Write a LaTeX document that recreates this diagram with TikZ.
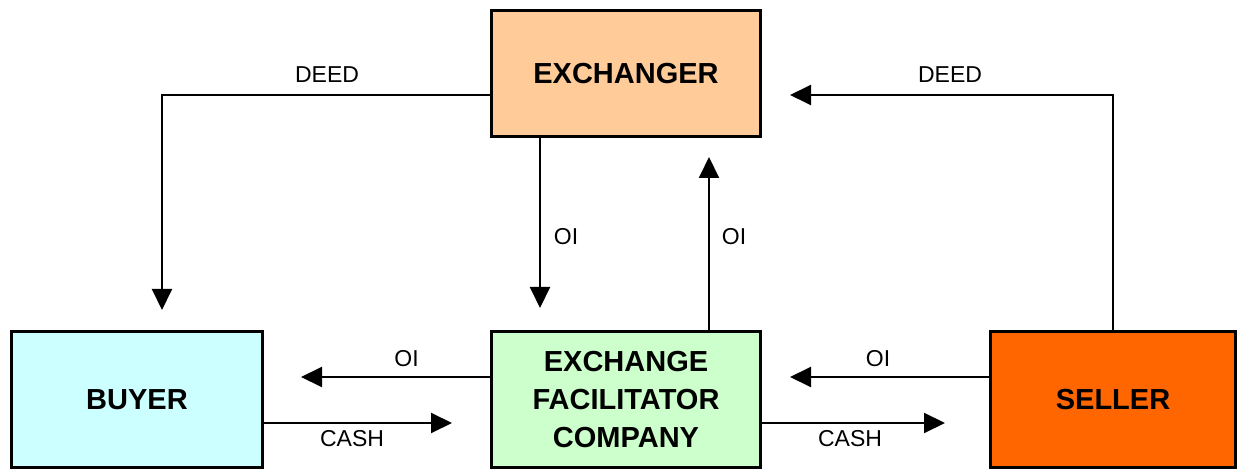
\documentclass[tikz,border=0pt]{standalone}
\usepackage{fontspec}
\setmainfont{Liberation Sans}
\usetikzlibrary{arrows.meta}
\definecolor{peach}{HTML}{FFCC99}
\definecolor{lcyan}{HTML}{CCFFFF}
\definecolor{lgreen}{HTML}{CCFFCC}
\definecolor{sorange}{HTML}{FF6600}
\tikzset{
  boxnode/.style={draw=black, line width=3pt, minimum height=136pt, inner sep=0pt,
    align=center, font=\fontsize{29}{38}\selectfont\bfseries},
  arr/.style={line width=2pt, -{Triangle[length=21pt,width=20pt]}},
  lbl/.style={font=\fontsize{23}{26}\selectfont, inner sep=0pt}
}
\begin{document}
\begin{tikzpicture}[x=1pt,y=-1pt]
\useasboundingbox (0,0) rectangle (1239,470);
\node[boxnode, fill=peach, minimum width=269pt, minimum height=126pt] (exch) at (626,73.5) {EXCHANGER};
\node[boxnode, fill=lcyan, minimum width=251pt] (buyer) at (137,399.5) {BUYER};
\node[boxnode, fill=lgreen, minimum width=269pt] (efc) at (626,399.5) {EXCHANGE\\FACILITATOR\\COMPANY};
\node[boxnode, fill=sorange, minimum width=245pt] (seller) at (1113,399.5) {SELLER};
% coordinates
\coordinate (dl) at (491.5,95);
\coordinate (bt) at (162,310);
\coordinate (dr) at (790,95);
\coordinate (sx) at (1113,95);
\coordinate (ods) at (540,137);
\coordinate (odt) at (540,308);
\coordinate (ous) at (709,331);
\coordinate (out) at (709,157);
\coordinate (olt) at (301,377);
\coordinate (ol) at (491,377);
\coordinate (cs) at (263,423);
\coordinate (ct) at (452,423);
\coordinate (ors) at (989,377);
\coordinate (ort) at (790,377);
\coordinate (crs) at (760,423);
\coordinate (crt) at (945,423);
% connectors
\draw[arr] (exch.west |- dl) -| (bt);
\draw[arr] (seller.north) -- (sx) -- (dr);
\draw[arr] (exch.south -| ods) -- (odt);
\draw[arr] (efc.north -| ous) -- (out);
\draw[arr] (efc.west |- ol) -- (olt);
\draw[arr] (buyer.east |- cs) -- (ct);
\draw[arr] (seller.west |- ors) -- (ort);
\draw[arr] (efc.east |- crs) -- (crt);
% labels
\node[lbl] (l1) at (327,75) {DEED};
\node[lbl] (l2) at (950,75) {DEED};
\node[lbl] (l3) at (566,237) {OI};
\node[lbl] (l4) at (734,237) {OI};
\node[lbl] (l5) at (406.5,359) {OI};
\node[lbl] (l6) at (878,359) {OI};
\node[lbl] (l7) at (352,439) {CASH};
\node[lbl] (l8) at (850,439) {CASH};
\end{tikzpicture}
\end{document}
